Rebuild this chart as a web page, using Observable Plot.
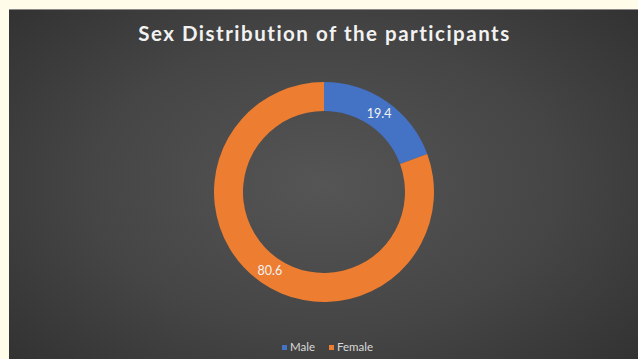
<!DOCTYPE html>
<html>
<head>
<meta charset="utf-8">
<script src="https://cdn.jsdelivr.net/npm/d3@7"></script>
<script src="https://cdn.jsdelivr.net/npm/@observablehq/plot@0.6"></script>
<style>
  html, body { margin: 0; padding: 0; background: #fffcea; }
  body { width: 638px; height: 359px; overflow: hidden; position: relative; }
  #frame {
    position: absolute; left: 9px; top: 9px; width: 629px; height: 350px;
    background: radial-gradient(ellipse 75% 85% at 50% 50%, #555 0%, #454545 50%, #2d2d2d 100%);
    border-top: 1px solid #8a8a8a;
    box-sizing: border-box;
    font-family: Lato, "Open Sans", sans-serif;
  }
  #title {
    height: 45px; box-sizing: border-box; padding-top: 13px;
    text-align: center; color: #f2f2f2; font-weight: 700; font-size: 20.5px;
    letter-spacing: 1.5px; line-height: 20px; padding-left: 2px;
  }
  #chart svg { display: block; }
  #legend {
    height: 26px; display: flex; justify-content: center; align-items: center;
    gap: 14px; color: #d9d9d9; font-size: 11.5px; padding-left: 8px; box-sizing: border-box;
  }
  #legend span.sw { display: inline-block; width: 5px; height: 5px; margin-right: 3px; vertical-align: 1px; }
</style>
</head>
<body>
<div id="frame">
  <div id="title">Sex Distribution of the participants</div>
  <div id="chart"></div>
  <div id="legend"></div>
</div>
<script>
const categories = ["Male", "Female"];
const values = [19.4, 80.6];
const colors = ["#4472C4", "#ED7D31"];
const titleText = "Sex Distribution of the participants";

const W = 629, H = 278;
const R = 110;          // outer radius in px (unit length)
const inner = 81 / 110; // inner radius ratio
const cx = 315, cy = 137;

const pie = d3.pie().sort(null).value(d => d)(values);
const arcUnit = d3.arc().innerRadius(inner).outerRadius(1);
const labels = pie.map((a, i) => {
  const c = arcUnit.centroid(a);
  return {x: c[0], y: -c[1], label: values[i].toFixed(1), category: categories[i]};
});

const donut = (index, scales) => {
  const k = scales.x(1) - scales.x(0);
  const g = d3.create("svg:g")
    .attr("transform", `translate(${scales.x(0)},${scales.y(0)})`);
  const arc = d3.arc().innerRadius(inner * k).outerRadius(k);
  g.selectAll("path").data(pie).join("path")
    .attr("d", arc)
    .attr("fill", (d, i) => colors[i]);
  return g.node();
};

const plot = Plot.plot({
  width: W, height: H,
  margin: 0,
  x: {domain: [-cx / R, (W - cx) / R], axis: null},
  y: {domain: [-(H - cy) / R, cy / R], axis: null},
  style: {background: "transparent"},
  marks: [
    donut,
    Plot.text(labels, {x: "x", y: "y", text: "label", fill: "#f2f2f2", fontSize: 12.5, fontFamily: "Lato, sans-serif"})
  ]
});
document.getElementById("chart").append(plot);

const legend = document.getElementById("legend");
categories.forEach((c, i) => {
  const item = document.createElement("div");
  item.innerHTML = `<span class="sw" style="background:${colors[i]}"></span>${c}`;
  legend.append(item);
});
</script>
</body>
</html>
